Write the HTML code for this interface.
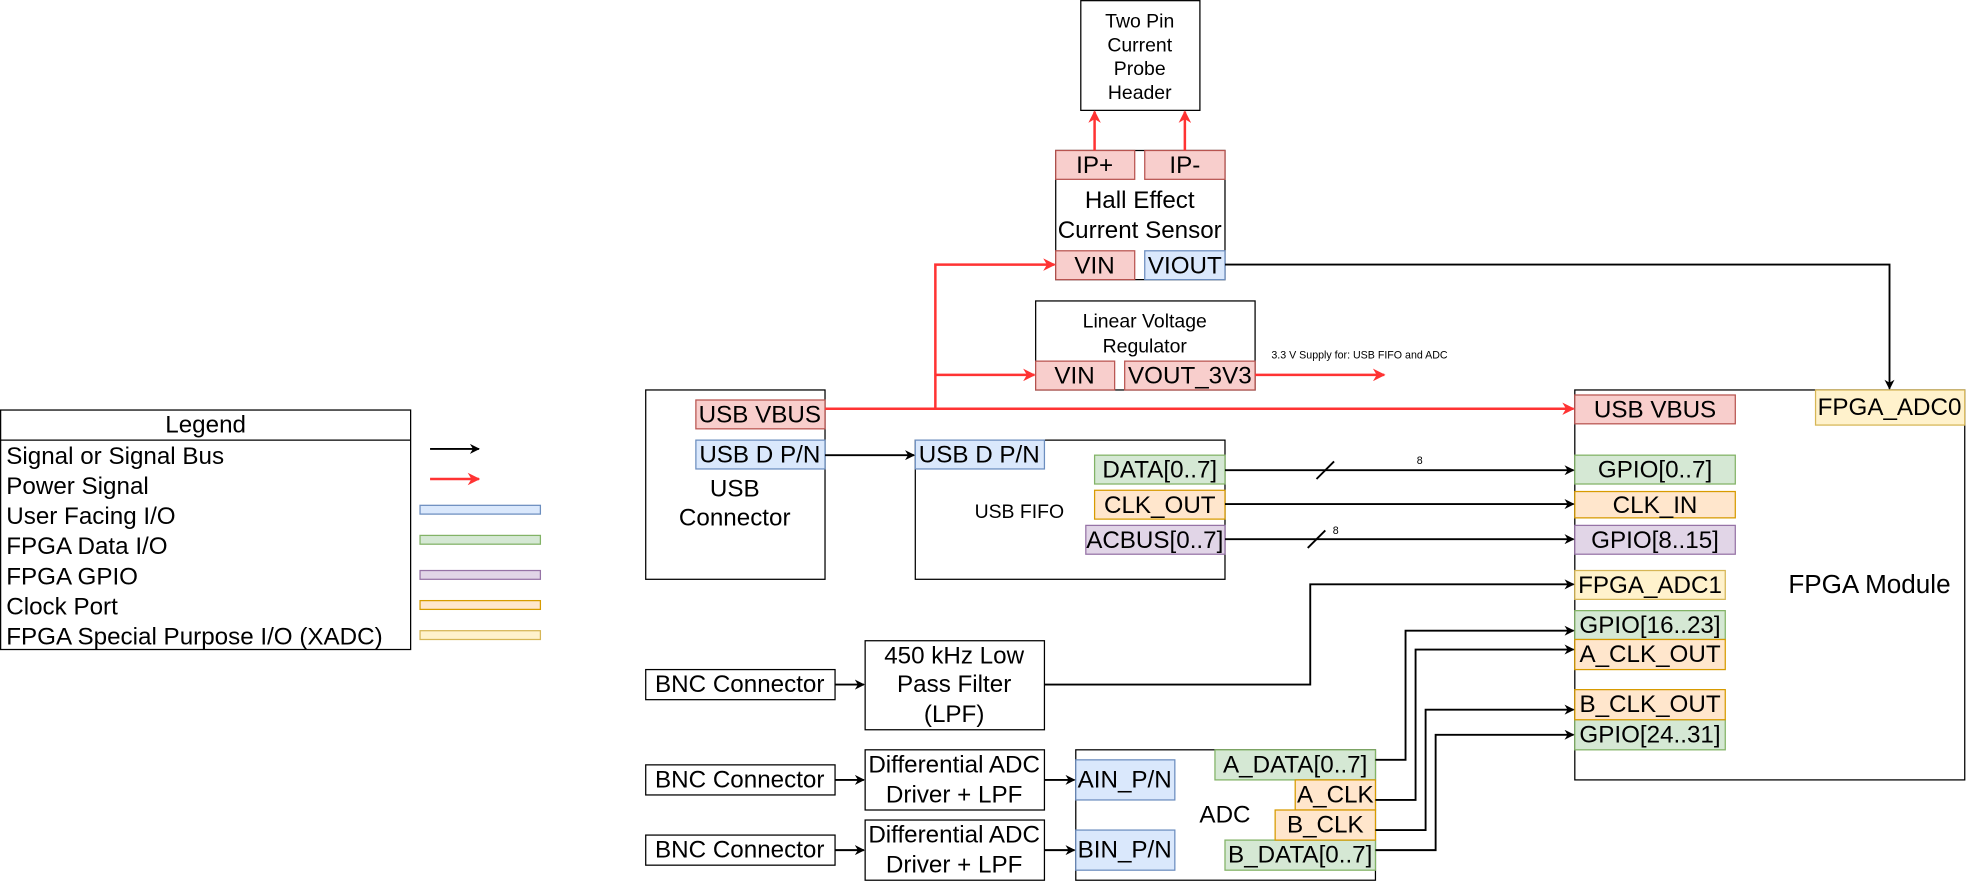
<!DOCTYPE html>
<html><head><meta charset="utf-8"><style>html,body{margin:0;padding:0;background:#fff}svg{display:block}text{font-family:"Liberation Sans",sans-serif;fill:#000}</style></head><body>
<svg width="1966" height="882" viewBox="0 0 1568 703.4" xmlns="http://www.w3.org/2000/svg">
<defs>
<marker id="ab" viewBox="0 0 10 10" refX="9" refY="5" markerWidth="8" markerHeight="8" orient="auto" markerUnits="userSpaceOnUse"><path d="M0,0 L10,5 L0,10 L3,5z" fill="#000"/></marker>
<marker id="ar" viewBox="0 0 10 10" refX="9" refY="5" markerWidth="10" markerHeight="10" orient="auto" markerUnits="userSpaceOnUse"><path d="M0,0 L10,5 L0,10 L3,5z" fill="#ff3333"/></marker>
</defs>
<g fill="#fff" stroke="#000" stroke-width="1">
<rect x="862" y="0.5" width="95" height="87.5"/>
<rect x="842" y="120" width="135" height="103"/>
<rect x="826" y="240" width="175" height="71"/>
<rect x="515" y="311" width="143" height="151"/>
<rect x="730" y="351" width="247" height="111"/>
<rect x="1256" y="311" width="311" height="311"/>
<rect x="0.5" y="327" width="327" height="191"/>
<line x1="0.5" y1="351" x2="327.5" y2="351"/>
<rect x="515" y="534" width="151" height="24"/>
<rect x="515" y="610" width="151" height="24"/>
<rect x="515" y="666" width="151" height="24"/>
<rect x="690" y="511" width="143" height="71"/>
<rect x="690" y="598" width="143" height="48"/>
<rect x="690" y="654" width="143" height="48"/>
<rect x="858" y="598" width="239" height="104"/>
</g>
<g stroke-width="1">
<g fill="#f8cecc" stroke="#b85450">
<rect x="842" y="120" width="63" height="23"/><rect x="913" y="120" width="64" height="23"/>
<rect x="842" y="200" width="63" height="23"/>
<rect x="826" y="288" width="63" height="23"/><rect x="897" y="288" width="104" height="23"/>
<rect x="555" y="319" width="103" height="23"/>
<rect x="1256" y="315" width="128" height="23"/>
</g>
<g fill="#dae8fc" stroke="#6c8ebf">
<rect x="913" y="200" width="64" height="23"/>
<rect x="555" y="351" width="103" height="23"/>
<rect x="730" y="351" width="103" height="23"/>
<rect x="858" y="606" width="79" height="32"/>
<rect x="858" y="662" width="79" height="32"/>
<rect x="335" y="403" width="96" height="7"/>
</g>
<g fill="#d5e8d4" stroke="#82b366">
<rect x="873" y="363" width="104" height="23"/>
<rect x="1256" y="363" width="128" height="23"/>
<rect x="1256" y="487" width="120" height="23"/>
<rect x="1256" y="574" width="120" height="24"/>
<rect x="969" y="598" width="128" height="24"/>
<rect x="977" y="670" width="120" height="24"/>
<rect x="335" y="427" width="96" height="7"/>
</g>
<g fill="#ffe6cc" stroke="#d79b00">
<rect x="873" y="391" width="104" height="23"/>
<rect x="1256" y="392" width="128" height="21"/>
<rect x="1256" y="510" width="120" height="24"/>
<rect x="1256" y="550" width="120" height="24"/>
<rect x="1033" y="622" width="64" height="24"/>
<rect x="1017" y="646" width="80" height="24"/>
<rect x="335" y="479" width="96" height="7"/>
</g>
<g fill="#e1d5e7" stroke="#9673a6">
<rect x="866" y="419" width="111" height="23"/>
<rect x="1256" y="419" width="128" height="23"/>
<rect x="335" y="455" width="96" height="7"/>
</g>
<g fill="#fff2cc" stroke="#d6b656">
<rect x="1256" y="455" width="120" height="23"/>
<rect x="1448" y="311" width="119" height="28"/>
<rect x="335" y="503" width="96" height="7"/>
</g>
</g>
<g stroke="#ff3333" stroke-width="2" fill="none">
<line x1="873" y1="120" x2="873" y2="89" marker-end="url(#ar)"/>
<line x1="945" y1="120" x2="945" y2="89" marker-end="url(#ar)"/>
<line x1="658" y1="326" x2="1255" y2="326" marker-end="url(#ar)"/>
<polyline points="746,326 746,211 841,211" marker-end="url(#ar)"/>
<line x1="746" y1="299" x2="825" y2="299" marker-end="url(#ar)"/>
<line x1="1001" y1="299" x2="1104" y2="299" marker-end="url(#ar)"/>
<line x1="343" y1="382" x2="382" y2="382" marker-end="url(#ar)"/>
</g>
<g stroke="#000" stroke-width="1.5" fill="none">
<polyline points="977,211 1507,211 1507,310" marker-end="url(#ab)"/>
<line x1="658" y1="363" x2="729" y2="363" marker-end="url(#ab)"/>
<line x1="977" y1="375" x2="1255" y2="375" marker-end="url(#ab)"/>
<line x1="977" y1="402" x2="1255" y2="402" marker-end="url(#ab)"/>
<line x1="977" y1="430" x2="1255" y2="430" marker-end="url(#ab)"/>
<line x1="1050" y1="382" x2="1064" y2="368"/>
<line x1="1043" y1="437" x2="1057" y2="423"/>
<polyline points="833,546 1045,546 1045,466 1255,466" marker-end="url(#ab)"/>
<line x1="666" y1="546" x2="689" y2="546" marker-end="url(#ab)"/>
<line x1="666" y1="622" x2="689" y2="622" marker-end="url(#ab)"/>
<line x1="666" y1="678" x2="689" y2="678" marker-end="url(#ab)"/>
<line x1="833" y1="622" x2="857" y2="622" marker-end="url(#ab)"/>
<line x1="833" y1="678" x2="857" y2="678" marker-end="url(#ab)"/>
<polyline points="1097,606 1121,606 1121,503 1255,503" marker-end="url(#ab)"/>
<polyline points="1097,638 1129,638 1129,518 1255,518" marker-end="url(#ab)"/>
<polyline points="1097,662 1137,662 1137,566 1255,566" marker-end="url(#ab)"/>
<polyline points="1097,678 1145,678 1145,586 1255,586" marker-end="url(#ab)"/>
<line x1="343" y1="358" x2="382" y2="358" marker-end="url(#ab)"/>
</g>
<g font-size="15.5" text-anchor="middle">
<text x="909" y="22">Two Pin</text><text x="909" y="41">Current</text><text x="909" y="60">Probe</text><text x="909" y="79">Header</text>
<text x="913" y="261">Linear Voltage</text><text x="913" y="281">Regulator</text>
<text x="813" y="413">USB FIFO</text>
</g>
<g font-size="19.3" text-anchor="middle">
<text x="873" y="138">IP+</text><text x="945" y="138">IP-</text>
<text x="909" y="166">Hall Effect</text><text x="909" y="190">Current Sensor</text>
<text x="873" y="218">VIN</text><text x="945" y="218">VIOUT</text>
<text x="857" y="306">VIN</text><text x="949" y="306">VOUT_3V3</text>
<text x="606" y="337">USB VBUS</text><text x="606" y="369">USB D P/N</text>
<text x="586" y="396">USB</text><text x="586" y="419">Connector</text>
<text x="781" y="369">USB D P/N</text>
<text x="925" y="381">DATA[0..7]</text><text x="925" y="409">CLK_OUT</text><text x="921" y="437">ACBUS[0..7]</text>
<text x="1320" y="333">USB VBUS</text><text x="1320" y="381">GPIO[0..7]</text><text x="1320" y="409">CLK_IN</text><text x="1320" y="437">GPIO[8..15]</text>
<text x="1316" y="473">FPGA_ADC1</text><text x="1316" y="505">GPIO[16..23]</text><text x="1316" y="528">A_CLK_OUT</text>
<text x="1316" y="568">B_CLK_OUT</text><text x="1316" y="592">GPIO[24..31]</text>
<text x="1507" y="331">FPGA_ADC0</text>
<text x="164" y="345">Legend</text>
<text x="590" y="552">BNC Connector</text><text x="590" y="628">BNC Connector</text><text x="590" y="684">BNC Connector</text>
<text x="761" y="529">450 kHz Low</text><text x="761" y="552">Pass Filter</text><text x="761" y="576">(LPF)</text>
<text x="761" y="616">Differential ADC</text><text x="761" y="640">Driver + LPF</text>
<text x="761" y="672">Differential ADC</text><text x="761" y="696">Driver + LPF</text>
<text x="897" y="628">AIN_P/N</text><text x="897" y="684">BIN_P/N</text>
<text x="977" y="656">ADC</text>
<text x="1033" y="616">A_DATA[0..7]</text><text x="1065" y="640">A_CLK</text><text x="1057" y="664">B_CLK</text><text x="1037" y="688">B_DATA[0..7]</text>
</g>
<text x="1491" y="473" font-size="20.8" text-anchor="middle">FPGA Module</text>
<g font-size="19.3">
<text x="5" y="370">Signal or Signal Bus</text><text x="5" y="394">Power Signal</text><text x="5" y="418">User Facing I/O</text>
<text x="5" y="442">FPGA Data I/O</text><text x="5" y="466">FPGA GPIO</text><text x="5" y="490">Clock Port</text>
<text x="5" y="514">FPGA Special Purpose I/O (XADC)</text>
</g>
<g font-size="8.5">
<text x="1014" y="286">3.3 V Supply for: USB FIFO and ADC</text>
<text x="1130" y="370">8</text><text x="1063" y="426">8</text>
</g>
</svg>
</body></html>
